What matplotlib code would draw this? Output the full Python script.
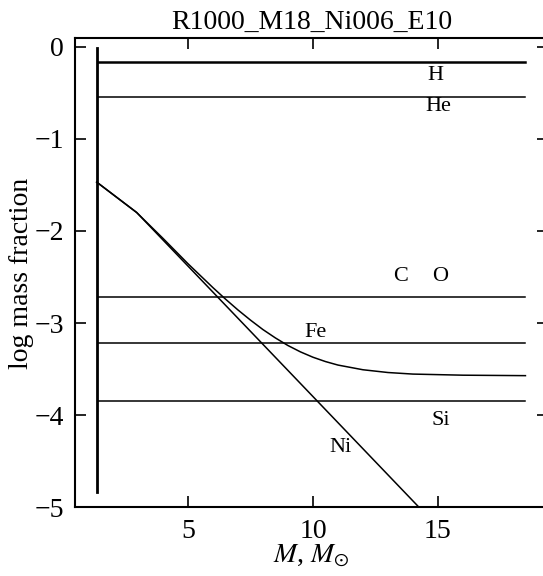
import matplotlib
matplotlib.use("Agg")
import matplotlib.pyplot as plt

plt.rcParams['font.family'] = ['Liberation Serif', 'DejaVu Serif']
plt.rcParams['mathtext.fontset'] = 'stix'

# horizontal abundance levels (log mass fraction)
levels = {"H": -0.17, "He": -0.55, "CO": -2.72, "Fe": -3.22, "Si": -3.85}
level_x = [1.4, 18.5]

# Ni profile
ni_x = [1.35, 2.95, 14.25]
ni_y = [-1.47, -1.80, -5.0]

# Fe profile
fe_x = [1.35, 2.95, 4, 5, 6, 6.5, 7, 7.5, 8, 8.5, 9, 9.5, 10, 10.5, 11,
        12, 13, 14, 16, 18.5]
fe_y = [-1.47, -1.80, -2.08, -2.355, -2.615, -2.739, -2.857, -2.967, -3.07,
        -3.161, -3.243, -3.312, -3.37, -3.417, -3.455, -3.506, -3.536,
        -3.553, -3.565, -3.57]

# vertical (inner boundary) line
vert_x = 1.35
vert_y = [-4.83, -0.02]

labels = [("H", 14.9, -0.31), ("He", 15.0, -0.65), ("C", 13.5, -2.49),
          ("O", 15.1, -2.49), ("Fe", 10.1, -3.1), ("Si", 15.1, -4.06),
          ("Ni", 11.1, -4.35)]

fig = plt.figure(figsize=(5.43, 5.76), dpi=100)
ax = fig.add_axes([0.138, 0.119, 0.872, 0.8145])

for name, y in levels.items():
    lw = 1.8 if name == "H" else 1.1
    ax.plot(level_x, [y, y], color='black', lw=lw)
ax.plot(ni_x, ni_y, color='black', lw=1.1)
ax.plot(fe_x, fe_y, color='black', lw=1.1)
ax.plot([vert_x, vert_x], vert_y, color='black', lw=2.0)

for txt, x, y in labels:
    ax.text(x, y, txt, fontsize=16, ha='center', va='center')

ax.set_xlim(0.48, 19.42)
ax.set_ylim(-5, 0.09)
ax.set_xticks([5, 10, 15])
ax.set_yticks([-5, -4, -3, -2, -1, 0])
ax.tick_params(direction='in', length=8, width=1.2, labelsize=20,
               top=True, right=True, pad=8)
for s in ax.spines.values():
    s.set_linewidth(1.5)

ax.set_title("R1000_M18_Ni006_E10", fontsize=20, pad=7)
ax.set_ylabel("log mass fraction", fontsize=20, labelpad=0)
ax.set_xlabel(r"$M$, $M_{\odot}$", fontsize=20, labelpad=-1)

fig.savefig("out.png", dpi=100)
